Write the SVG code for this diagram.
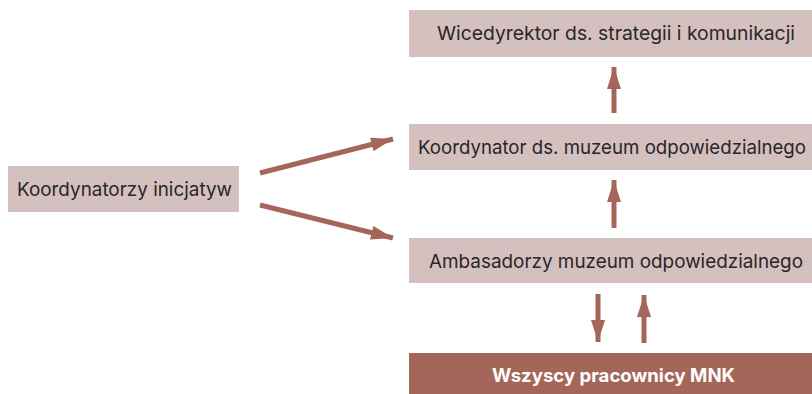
<svg xmlns="http://www.w3.org/2000/svg" width="812" height="394" viewBox="0 0 812 394">
<style>
.box{fill:#d4c1bf}
.dark{fill:#a5665a}
.t{font-family:Inter,Roboto,"Liberation Sans",sans-serif;font-size:19px;fill:#2a2627}
.tb{font-family:Inter,Roboto,"Liberation Sans",sans-serif;font-size:18.5px;font-weight:bold;fill:#ffffff}
.c{stroke:#a5665a;stroke-width:5;fill:none}
</style>
<defs>
<marker id="ah" viewBox="0 0 22 14" refX="22" refY="7" markerWidth="22" markerHeight="14" markerUnits="userSpaceOnUse" orient="auto">
<path d="M0,0 L22,7 L0,14 Z" fill="#a5665a"/>
</marker>
</defs>
<rect width="812" height="394" fill="#ffffff"/>
<g id="wicedyrektor">
<rect class="box" x="409" y="10" width="403" height="47"/>
<text class="t" x="437" y="40" textLength="358" lengthAdjust="spacingAndGlyphs">Wicedyrektor ds. strategii i komunikacji</text>
</g>
<g id="koordynator">
<rect class="box" x="409" y="124" width="403" height="46"/>
<text class="t" x="418" y="154" textLength="388" lengthAdjust="spacingAndGlyphs">Koordynator ds. muzeum odpowiedzialnego</text>
</g>
<g id="ambasadorzy">
<rect class="box" x="409" y="238" width="403" height="45"/>
<text class="t" x="429" y="268" textLength="374" lengthAdjust="spacingAndGlyphs">Ambasadorzy muzeum odpowiedzialnego</text>
</g>
<g id="pracownicy">
<rect class="dark" x="409" y="353" width="403" height="41"/>
<text class="tb" x="492" y="382" textLength="243" lengthAdjust="spacingAndGlyphs">Wszyscy pracownicy MNK</text>
</g>
<g id="koordynatorzy">
<rect class="box" x="8" y="166" width="231" height="46"/>
<text class="t" x="17" y="196" textLength="215" lengthAdjust="spacingAndGlyphs">Koordynatorzy inicjatyw</text>
</g>
<g id="connectors">
<line class="c" x1="614" y1="113" x2="614" y2="67" marker-end="url(#ah)"/>
<line class="c" x1="614" y1="228" x2="614" y2="180" marker-end="url(#ah)"/>
<line class="c" x1="598" y1="294" x2="598" y2="342" marker-end="url(#ah)"/>
<line class="c" x1="644" y1="343" x2="644" y2="295" marker-end="url(#ah)"/>
<line class="c" x1="260" y1="173" x2="393" y2="139" marker-end="url(#ah)"/>
<line class="c" x1="260" y1="205" x2="393" y2="238" marker-end="url(#ah)"/>
</g>
</svg>
